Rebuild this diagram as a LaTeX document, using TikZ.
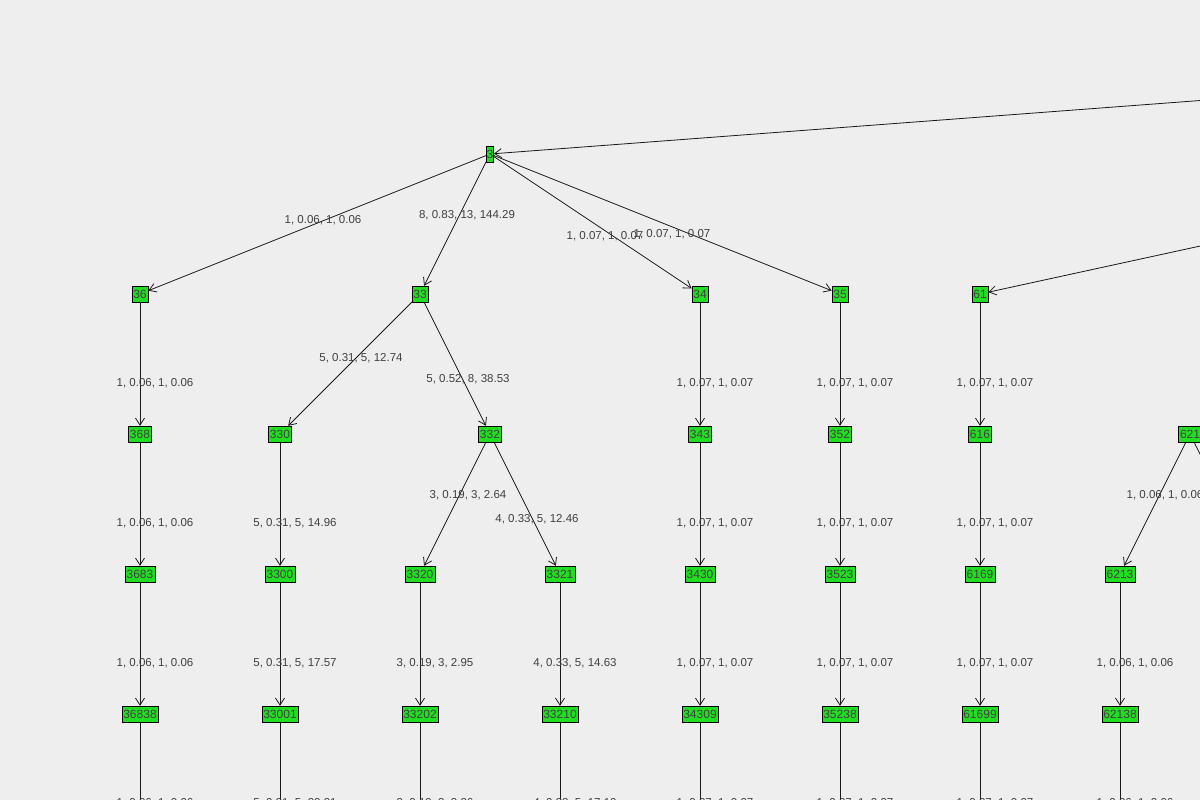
\documentclass[tikz,border=0pt]{standalone}
\usepackage{fontspec}
\setmainfont{Liberation Sans}
\usetikzlibrary{arrows.meta}
\definecolor{bg}{RGB}{238,238,238}
\definecolor{vgreen}{RGB}{34,222,34}
\tikzstyle{vertex} = [rectangle, draw=black, fill=vgreen, minimum height=16pt, inner sep=1.5pt, font=\fontsize{12}{13}\selectfont, text=black!75]
\tikzstyle{arrow} = [-{Straight Barb[length=7pt,width=9pt]}, black!90, line width=0.8pt]
\tikzstyle{lbl} = [font=\fontsize{11.5}{13}\selectfont, text=black!75, inner sep=0pt]
\begin{document}
\begin{tikzpicture}[x=1pt,y=-1pt]
\fill[bg] (0,0) rectangle (1200,800);
\clip (0,0) rectangle (1200,800);
\useasboundingbox (0,0) rectangle (1200,800);
% nodes
\node (n3) [vertex, inner sep=0.3pt] at (490,154) {3};
\coordinate (offa) at (1260,96);
\coordinate (offb) at (1260,233);
\node (n36) [vertex] at (140,294) {36};
\node (n33) [vertex] at (420,294) {33};
\node (n34) [vertex] at (700,294) {34};
\node (n35) [vertex] at (840,294) {35};
\node (n61) [vertex] at (980,294) {61};
\node (n368) [vertex] at (140,434) {368};
\node (n330) [vertex] at (280,434) {330};
\node (n332) [vertex] at (490,434) {332};
\node (n343) [vertex] at (700,434) {343};
\node (n352) [vertex] at (840,434) {352};
\node (n616) [vertex] at (980,434) {616};
\node (n621) [vertex] at (1190,434) {621};
\coordinate (offc) at (1260,574);
\node (n3683) [vertex] at (140,574) {3683};
\node (n3300) [vertex] at (280,574) {3300};
\node (n3320) [vertex] at (420,574) {3320};
\node (n3321) [vertex] at (560,574) {3321};
\node (n3430) [vertex] at (700,574) {3430};
\node (n3523) [vertex] at (840,574) {3523};
\node (n6169) [vertex] at (980,574) {6169};
\node (n6213) [vertex] at (1120,574) {6213};
\node (n36838) [vertex] at (140,714) {36838};
\node (n33001) [vertex] at (280,714) {33001};
\node (n33202) [vertex] at (420,714) {33202};
\node (n33210) [vertex] at (560,714) {33210};
\node (n34309) [vertex] at (700,714) {34309};
\node (n35238) [vertex] at (840,714) {35238};
\node (n61699) [vertex] at (980,714) {61699};
\node (n62138) [vertex] at (1120,714) {62138};
\foreach \x in {140,280,...,1120} \coordinate (low\x) at (\x,860);

% edges
\draw [arrow] (offa) -- (n3);
\draw [arrow] (offb) -- (n61);
\draw [arrow] (n3) -- (n36) node[lbl] at (323,220) {1, 0.06, 1, 0.06};
\draw [arrow] (n3) -- (n33) node[lbl] at (467,215) {8, 0.83, 13, 144.29};
\draw [arrow] (n3) -- (n34) node[lbl] at (605,236) {1, 0.07, 1, 0.07};
\draw [arrow] (n3) -- (n35) node[lbl] at (672,234) {1, 0.07, 1, 0.07};
\draw [arrow] (n33) -- (n330) node[lbl] at (361,358) {5, 0.31, 5, 12.74};
\draw [arrow] (n33) -- (n332) node[lbl] at (468,379) {5, 0.52, 8, 38.53};
\draw [arrow] (n332) -- (n3320) node[lbl] at (468,495) {3, 0.19, 3, 2.64};
\draw [arrow] (n332) -- (n3321) node[lbl] at (537,519) {4, 0.33, 5, 12.46};
\draw [arrow] (n621) -- (n6213) node[lbl] at (1165,495) {1, 0.06, 1, 0.06};
\draw [arrow] (n621) -- (offc) node[lbl] at (1210,515) {-};
\foreach \a/\b/\t in {n36/n368/{1, 0.06, 1, 0.06}, n34/n343/{1, 0.07, 1, 0.07},
  n35/n352/{1, 0.07, 1, 0.07}, n61/n616/{1, 0.07, 1, 0.07},
  n368/n3683/{1, 0.06, 1, 0.06}, n330/n3300/{5, 0.31, 5, 14.96},
  n343/n3430/{1, 0.07, 1, 0.07}, n352/n3523/{1, 0.07, 1, 0.07},
  n616/n6169/{1, 0.07, 1, 0.07},
  n3683/n36838/{1, 0.06, 1, 0.06}, n3300/n33001/{5, 0.31, 5, 17.57},
  n3320/n33202/{3, 0.19, 3, 2.95}, n3321/n33210/{4, 0.33, 5, 14.63},
  n3430/n34309/{1, 0.07, 1, 0.07}, n3523/n35238/{1, 0.07, 1, 0.07},
  n6169/n61699/{1, 0.07, 1, 0.07}, n6213/n62138/{1, 0.06, 1, 0.06}}
  \draw [arrow] (\a) -- node[lbl, xshift=15pt, yshift=-19pt] {\t} (\b);
\foreach \x/\t in {140/{1, 0.06, 1, 0.06}, 280/{5, 0.31, 5, 20.21},
  420/{3, 0.19, 3, 3.26}, 560/{4, 0.33, 5, 17.10}, 700/{1, 0.07, 1, 0.07},
  840/{1, 0.07, 1, 0.07}, 980/{1, 0.07, 1, 0.07}, 1120/{1, 0.06, 1, 0.06}}
  \draw [arrow] (\x,722) -- (low\x) node[lbl] at (\x+15,803) {\t};
\end{tikzpicture}
\end{document}
